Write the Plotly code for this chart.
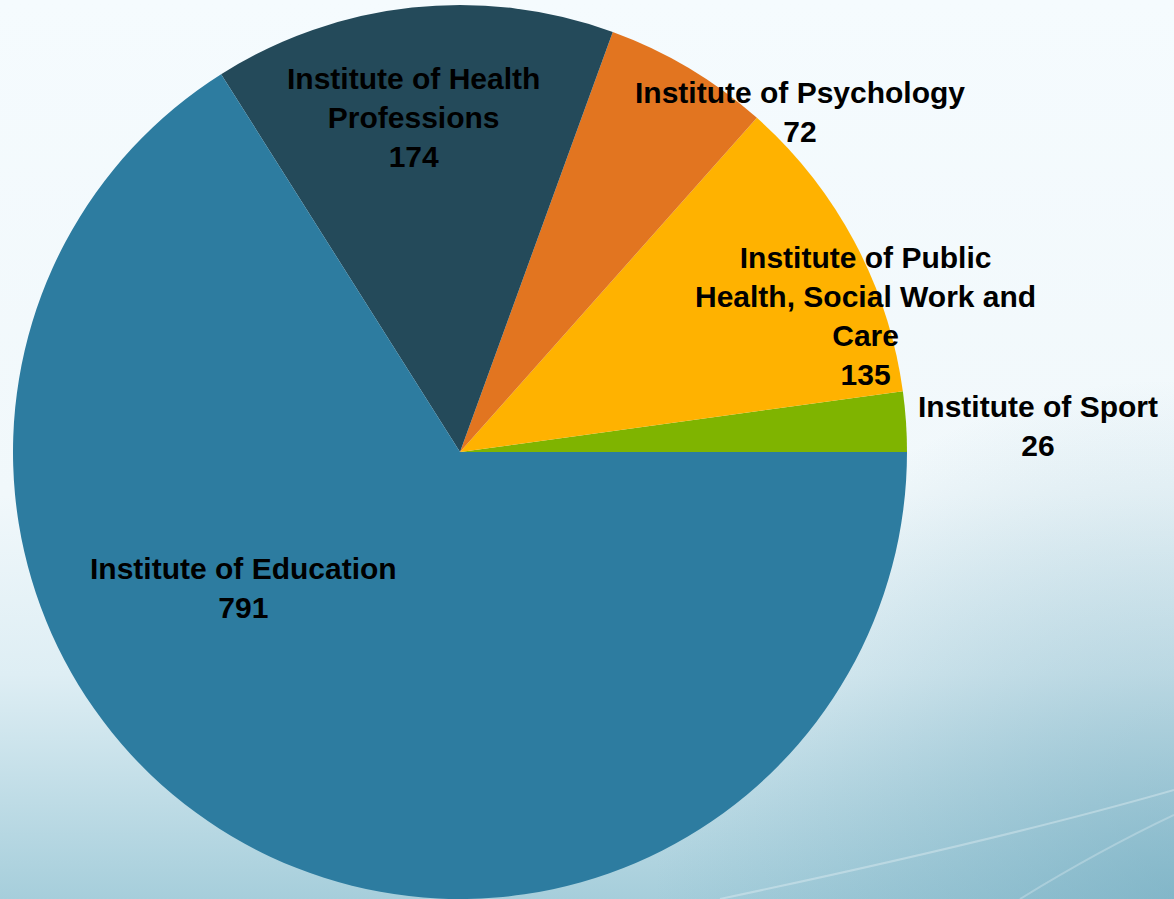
import base64
import plotly.graph_objects as go

# ---- data ----
labels = ["Institute of Sport",
          "Institute of Public Health, Social Work and Care",
          "Institute of Psychology",
          "Institute of Health Professions",
          "Institute of Education"]
values = [26, 135, 72, 174, 791]
label_lines = ["Institute of Sport",
               "Institute of Public<br>Health, Social Work and<br>Care",
               "Institute of Psychology",
               "Institute of Health<br>Professions",
               "Institute of Education"]

# ---- style ----
colors = ["#7fb400", "#ffb200", "#e27520", "#244a5a", "#2d7ca0"]
W, H = 1174, 899
# label block centres in pixels (x, y from top)
label_pos = [(1038, 426), (865, 316), (800, 112), (413, 118), (243, 588)]

svg = f'''<svg xmlns="http://www.w3.org/2000/svg" width="{W}" height="{H}" viewBox="0 0 {W} {H}" preserveAspectRatio="none">
<defs>
<linearGradient id="g" x1="0" y1="0" x2="0" y2="1">
<stop offset="0" stop-color="#f5fbfe"/>
<stop offset="0.55" stop-color="#f1f8fb"/>
<stop offset="0.75" stop-color="#deeef4"/>
<stop offset="1" stop-color="#a6cedb"/>
</linearGradient>
<radialGradient id="g2" gradientUnits="userSpaceOnUse" cx="{W}" cy="{H}" r="520">
<stop offset="0" stop-color="#5f9fb6" stop-opacity="0.5"/>
<stop offset="1" stop-color="#5f9fb6" stop-opacity="0"/>
</radialGradient>
</defs>
<rect width="{W}" height="{H}" fill="url(#g)"/>
<rect width="{W}" height="{H}" fill="url(#g2)"/>
<path d="M720 {H} Q1000 840 1174 790" stroke="#ffffff" stroke-opacity="0.3" stroke-width="2" fill="none"/>
<path d="M1020 {H} Q1100 850 1174 815" stroke="#ffffff" stroke-opacity="0.25" stroke-width="2" fill="none"/>
</svg>'''
bg_uri = "data:image/svg+xml;base64," + base64.b64encode(svg.encode()).decode()

# first slice must start at 3 o'clock going counter-clockwise
rotation = 90 - values[0] / sum(values) * 360

fig = go.Figure()
fig.add_trace(go.Pie(
    labels=labels,
    values=values,
    sort=False,
    direction="counterclockwise",
    rotation=rotation,
    marker=dict(colors=colors, line=dict(width=0)),
    textinfo="none",
    hoverinfo="label+value",
    showlegend=False,
    domain=dict(x=[13 / W, 907 / W], y=[0, 894 / H]),
))

for txt, v, (px, py) in zip(label_lines, values, label_pos):
    fig.add_annotation(
        text=f"{txt}<br>{v}",
        x=px / W, y=1 - py / H, xref="paper", yref="paper",
        xanchor="center", yanchor="middle", showarrow=False,
        align="center",
        font=dict(family="Liberation Sans, Arial, sans-serif", size=30,
                  color="#000000", weight="bold"),
    )

fig.add_layout_image(dict(
    source=bg_uri, xref="paper", yref="paper", x=0, y=1,
    sizex=1, sizey=1, sizing="stretch", layer="below",
    xanchor="left", yanchor="top",
))

fig.update_layout(
    width=W, height=H,
    margin=dict(l=0, r=0, t=0, b=0),
    paper_bgcolor="#f5fbfe",
    plot_bgcolor="rgba(0,0,0,0)",
)

fig.write_html("out.html",
               config={"displayModeBar": False},
               post_script="document.body.style.margin='0';document.body.style.overflow='hidden';")
